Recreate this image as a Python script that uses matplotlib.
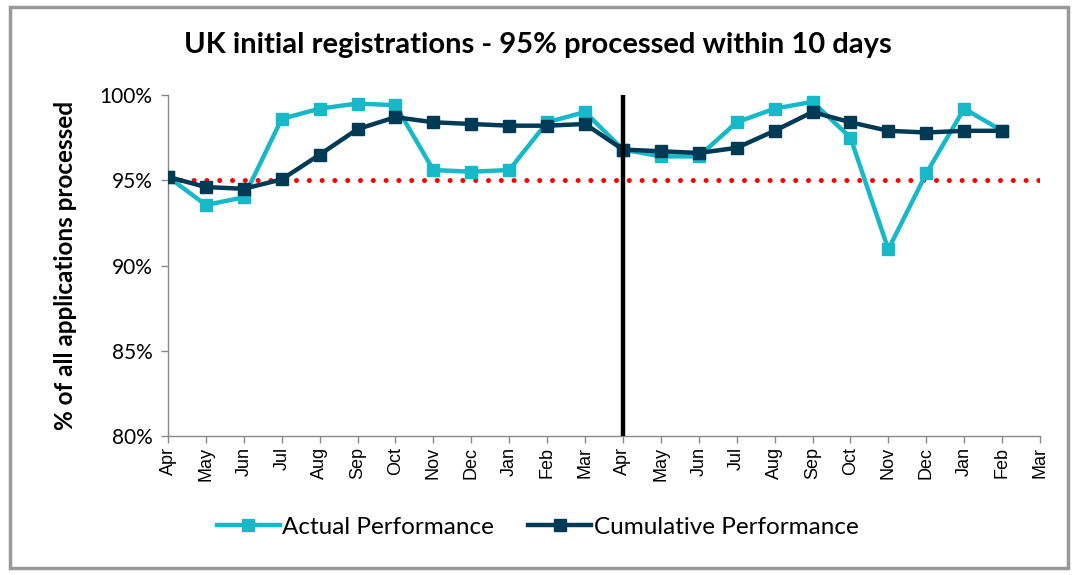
import matplotlib
matplotlib.use("Agg")
import matplotlib.pyplot as plt
from matplotlib.patches import Rectangle

months = ["Apr", "May", "Jun", "Jul", "Aug", "Sep", "Oct", "Nov", "Dec", "Jan", "Feb", "Mar",
          "Apr", "May", "Jun", "Jul", "Aug", "Sep", "Oct", "Nov", "Dec", "Jan", "Feb", "Mar"]
actual = [95.2, 93.55, 94.0, 98.6, 99.2, 99.5, 99.4, 95.6, 95.5, 95.6, 98.4, 99.0,
          96.8, 96.4, 96.4, 98.4, 99.2, 99.6, 97.5, 90.95, 95.4, 99.2, 97.9]
cumulative = [95.2, 94.6, 94.5, 95.05, 96.5, 98.0, 98.7, 98.4, 98.3, 98.2, 98.2, 98.3,
              96.8, 96.7, 96.6, 96.9, 97.9, 99.0, 98.4, 97.9, 97.8, 97.9, 97.9]
target = 95
year_split = 12
yticks = [80, 85, 90, 95, 100]

c_actual = "#17B9C8"
c_cum = "#003A55"

fig = plt.figure(figsize=(10.75, 5.75), dpi=100)
ax = fig.add_axes([168/1075, 1-436/575, (1040-168)/1075, (436-95)/575])

x = list(range(len(months)))
ax.axhline(target, color="#FF0000", lw=3.6, linestyle=(0, (0.01, 2.55)),
           dash_capstyle="round", zorder=1)
ax.plot(x[:len(actual)], actual, color=c_actual, lw=3.2, marker="s", ms=8.5,
        label="Actual Performance", zorder=3)
ax.plot(x[:len(cumulative)], cumulative, color=c_cum, lw=3.2, marker="s", ms=8.5,
        label="Cumulative Performance", zorder=4)
ax.axvline(year_split, color="black", lw=3.2, zorder=5)

ax.set_xlim(0, len(months)-1)
ax.set_ylim(80, 100)
ax.set_xticks(x)
ax.set_xticklabels(months, rotation=90, fontsize=13, family="Liberation Sans")
ax.set_yticks(yticks)
ax.set_yticklabels([f"{v}%" for v in yticks], fontsize=15, family="Lato")
for s in ["top", "right"]:
    ax.spines[s].set_visible(False)
for s in ["left", "bottom"]:
    ax.spines[s].set_color("#888888")
    ax.spines[s].set_linewidth(1)
ax.tick_params(axis="both", color="#888888", length=5, width=1)
ax.tick_params(axis="y", pad=6)
ax.tick_params(axis="x", pad=3)

ax.set_ylabel("% of all applications processed", fontsize=17.5, fontweight="bold",
              family="Lato", labelpad=16)
fig.text(0.5, 1-45/575, "UK initial registrations - 95% processed within 10 days",
         ha="center", va="center", fontsize=21, fontweight="bold", family="Lato")

leg = fig.legend(loc="center", bbox_to_anchor=(0.5, 1-527/575), ncol=2, frameon=False,
                 prop={"family": "Lato", "size": 17.5}, handlelength=2.6,
                 columnspacing=1.4, handletextpad=0.1)

fig.patches.append(Rectangle((10/1075, 7/575), 1058/1075, 561/575, transform=fig.transFigure,
                             fill=False, edgecolor="#999999", lw=2.5, zorder=0))

fig.savefig("out.png", dpi=100)
